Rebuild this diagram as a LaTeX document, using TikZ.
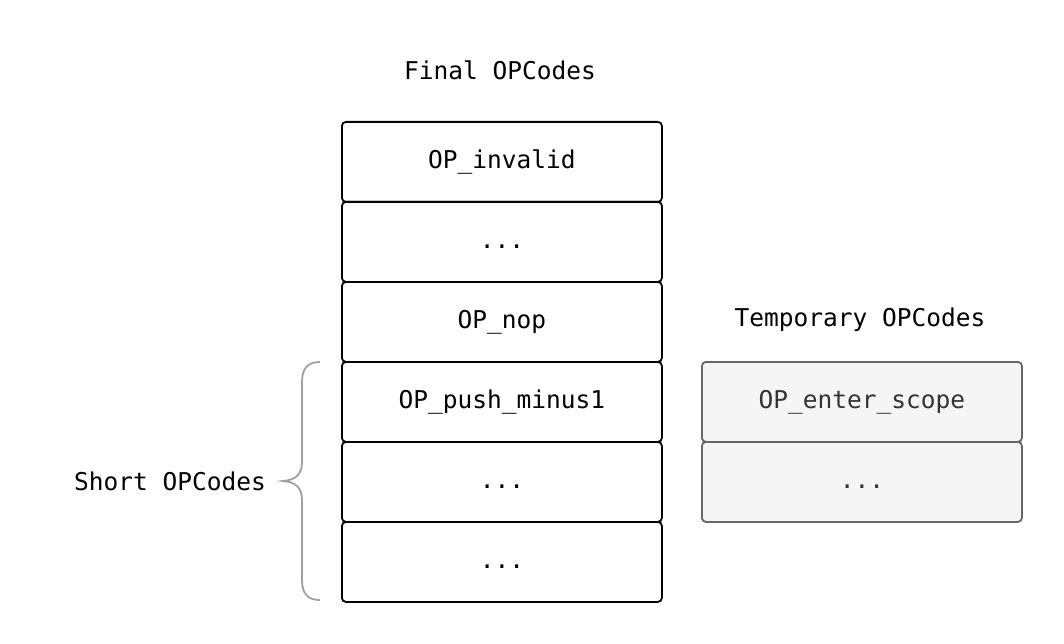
\documentclass[tikz,border=0pt]{standalone}
\usepackage{fontspec}
\setmonofont{DejaVu Sans Mono}
\definecolor{tempfill}{HTML}{F5F5F5}
\definecolor{tempdraw}{HTML}{666666}
\definecolor{temptext}{HTML}{333333}
\definecolor{bracecol}{HTML}{A0A0A0}
\begin{document}
\begin{tikzpicture}[x=1pt,y=-1pt,
  lbl/.style={font=\ttfamily\fontsize{24.5}{28}\selectfont, text=black, inner sep=0pt},
  opbox/.style={draw=black, line width=1.8pt, rounded corners=4pt, fill=white,
    minimum width=320pt, minimum height=80pt, inner sep=0pt, anchor=north west,
    text height=19pt, text depth=5pt,
    font=\ttfamily\fontsize{24.5}{28}\selectfont},
  tempbox/.style={opbox, draw=tempdraw, fill=tempfill, text=temptext}]
\useasboundingbox (0,0) rectangle (1064,644);
\node[lbl] (finaltitle) at (500,70) {Final OPCodes};
\node[opbox] (f1) at (341,121) {OP\_invalid};
\node[opbox] (f2) at (341,201) {...};
\node[opbox] (f3) at (341,281) {OP\_nop};
\node[opbox] (f4) at (341,361) {OP\_push\_minus1};
\node[opbox] (f5) at (341,441) {...};
\node[opbox] (f6) at (341,521) {...};
\node[lbl] (temptitle) at (860,320) {Temporary OPCodes};
\node[tempbox] (t1) at (701,361) {OP\_enter\_scope};
\node[tempbox] (t2) at (701,441) {...};
\node[lbl] (shorttitle) at (170,481) {Short OPCodes};
\draw[bracecol, line width=1.8pt]
  (320,362) .. controls (308,362) and (302,368) .. (302,382) -- (302,462)
  .. controls (302,474) and (296,480) .. (283,481)
  .. controls (296,482) and (302,488) .. (302,500) -- (302,580)
  .. controls (302,594) and (308,600) .. (320,600);
\end{tikzpicture}
\end{document}
